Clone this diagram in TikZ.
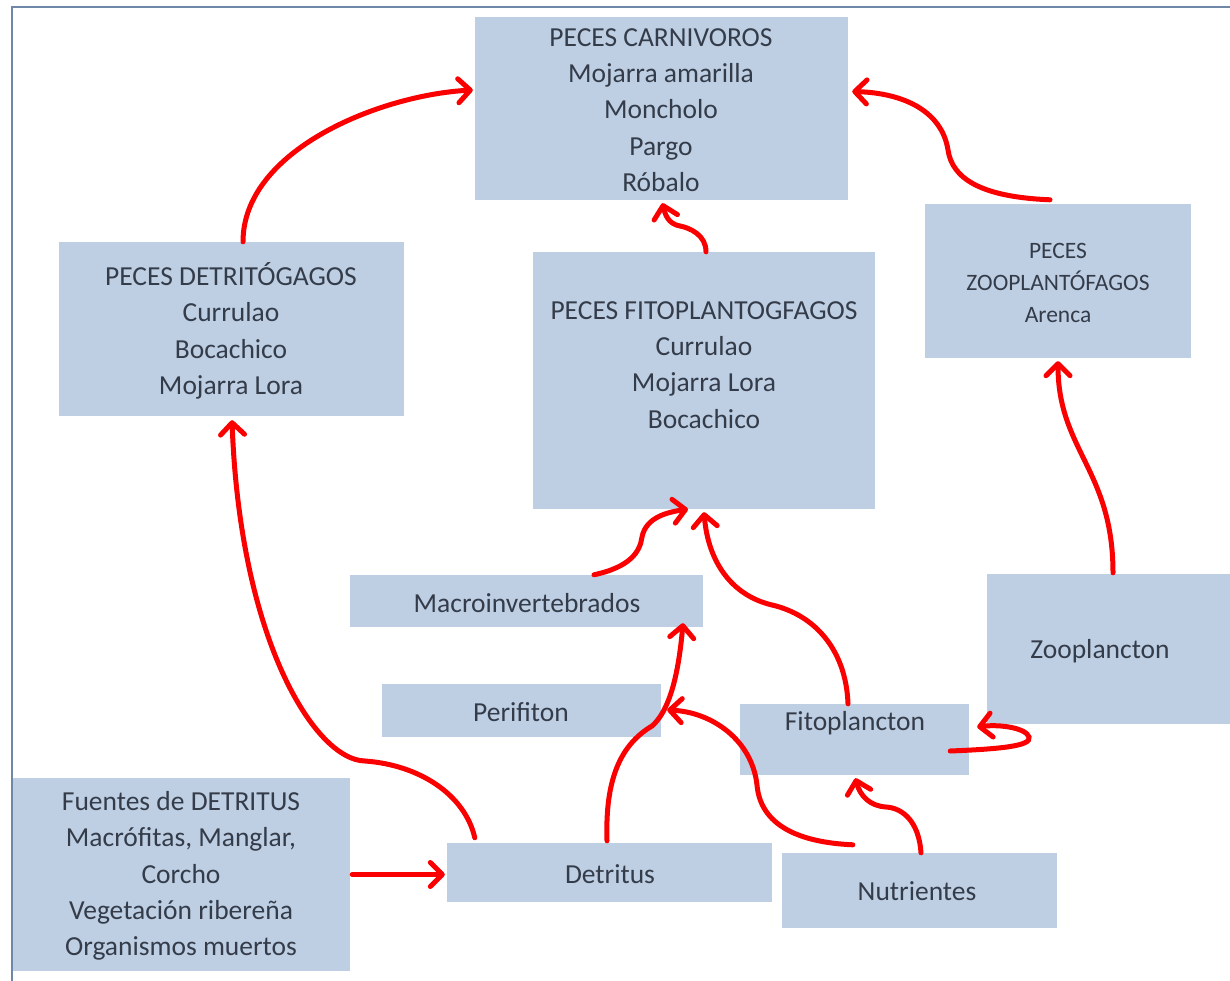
\documentclass[tikz,border=0pt]{standalone}
\usepackage{fontspec}
\setmainfont{Carlito}
\usetikzlibrary{arrows.meta,calc}
\definecolor{boxblue}{RGB}{190,207,228}
\definecolor{txtgray}{RGB}{52,60,74}
\definecolor{frameblue}{RGB}{112,136,168}
\definecolor{arrred}{RGB}{250,0,0}
\tikzset{
  box/.style={fill=boxblue, draw=none, inner sep=0pt},
  txt/.style={text=txtgray, align=center, inner sep=0pt, font=\fontsize{27.5}{36.3}\selectfont},
  smalltxt/.style={text=txtgray, align=center, inner sep=0pt, font=\fontsize{23.5}{32}\selectfont},
  flow/.style={draw=arrred, line width=5pt, line cap=round,
    -{Straight Barb[length=12pt,width=24pt,line cap=round,line join=round]}},
}
\begin{document}
\begin{tikzpicture}[x=1pt,y=-1pt]
\useasboundingbox (0,0) rectangle (1230,981);
\fill[white] (0,0) rectangle (1230,981);
\draw[frameblue, line width=2pt] (1230,7.5) -- (12,7.5) -- (12,981);

% boxes
\node[box, minimum width=373pt, minimum height=183pt] (carn) at (661.5,108.5) {};
\node[box, minimum width=345pt, minimum height=174pt] (detf) at (231.5,329) {};
\node[box, minimum width=342pt, minimum height=257pt] (fitf) at (704,380.5) {};
\node[box, minimum width=266pt, minimum height=154pt] (zoof) at (1058,281) {};
\node[box, minimum width=353pt, minimum height=52pt] (macro) at (526.5,601) {};
\node[box, minimum width=279pt, minimum height=53pt] (peri) at (521.5,710.5) {};
\node[box, minimum width=229pt, minimum height=71pt] (fito) at (854.5,739.5) {};
\node[box, minimum width=243pt, minimum height=150pt] (zoo) at (1108.5,649) {};
\node[box, minimum width=337pt, minimum height=193pt] (fuen) at (181.5,874.5) {};
\node[box, minimum width=325pt, minimum height=59pt] (detr) at (609.5,872.5) {};
\node[box, minimum width=275pt, minimum height=75pt] (nutr) at (919.5,890.5) {};

% texts
\node[txt] (carn-t) at (661,110) {PECES CARNIVOROS\\Mojarra amarilla\\Moncholo\\Pargo\\Róbalo};
\node[txt] (detf-t) at (231,331) {PECES DETRITÓGAGOS\\Currulao\\Bocachico\\Mojarra Lora};
\node[txt] (fitf-t) at (704,365) {PECES FITOPLANTOGFAGOS\\Currulao\\Mojarra Lora\\Bocachico};
\node[smalltxt] (zoof-t) at (1058,283) {PECES\\ZOOPLANTÓFAGOS\\Arenca};
\node[txt] (macro-t) at (527,603) {Macroinvertebrados};
\node[txt] (peri-t) at (521,712) {Perifiton};
\node[txt] (fito-t) at (855,723) {Fitoplancton};
\node[txt] (zoo-t) at (1100,651) {Zooplancton};
\node[txt] (fuen-t) at (181,876) {Fuentes de DETRITUS\\Macrófitas, Manglar,\\Corcho\\Vegetación ribereña\\Organismos muertos};
\node[txt] (detr-t) at (610,874) {Detritus};
\node[txt] (nutr-t) at (917,891) {Nutrientes};

% connectors
\draw[flow] ($(detf.north)+(11.5,0)$) .. controls (243,150) and (380,95) .. ($(carn.west)+(-2,-18.5)$);
\draw[flow] ($(fitf.north)+(2,0)$) .. controls (706,235) and (690,228) .. (680,226)
  .. controls (668,224) and (665,214) .. ($(carn.south)+(1,3)$);
\draw[flow] ($(zoof.north)+(-8,-4)$) .. controls (980,197) and (952,178) .. (948,150)
  .. controls (942,112) and (905,93) .. ($(carn.east)+(4,-17)$);
\draw[flow] ($(zoo.north)+(4.5,-1)$) .. controls (1113,470) and (1058,450) .. ($(zoof.south)+(0,3)$);
\draw[flow] ($(macro.north)+(67.5,0)$) .. controls (630,567) and (640,552) .. (642,537)
  .. controls (646,517) and (668,512) .. ($(fitf.south)+(-16,0)$);
\draw[flow] ($(fito.north)+(-6.5,0)$) .. controls (846,650) and (815,615) .. (772,605)
  .. controls (730,595) and (708,560) .. ($(fitf.south)+(0,3)$);
\draw[flow] ($(detr.north)+(-2.5,-2)$) .. controls (605,780) and (620,745) .. (652,726)
  .. controls (668,712) and (678,680) .. ($(macro.south)+(156.5,-4)$);
\draw[flow] ($(nutr.north west)+(71,-8)$) .. controls (790,842) and (760,820) .. (757,785)
  .. controls (752,740) and (712,712) .. ($(peri.east)+(6,-0.5)$);
\draw[flow] ($(nutr.north)+(1.5,0)$) .. controls (919,822) and (903,808) .. (886,807)
  .. controls (870,806) and (860,796) .. ($(fito.south)+(1,3)$);
\draw[flow] ($(fito.east)+(-19,11.5)$) .. controls (1000,749) and (1032,746) .. (1029,737)
  .. controls (1026,728) and (1000,724) .. ($(fito.east)+(8,-12.5)$);
\draw[flow] ($(fuen.east)+(2,0)$) -- ($(detr.west)+(-2,2)$);
\draw[flow] ($(detr.north west)+(28,-5)$) .. controls (465,795) and (420,765) .. (365,761)
  .. controls (315,760) and (240,640) .. ($(detf.south)+(0.5,4)$);
\end{tikzpicture}
\end{document}
